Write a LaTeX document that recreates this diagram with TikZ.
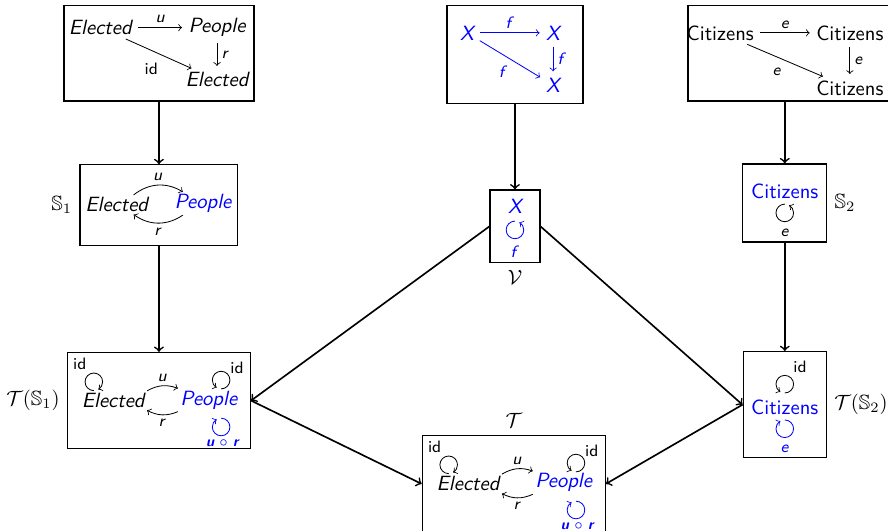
\documentclass[tikz,border=0pt]{standalone}
\usepackage{amssymb}
\begin{document}
\begin{tikzpicture}[
    font=\sffamily,
    box/.style={draw=black, semithick, inner sep=0pt},
    obj/.style={inner sep=1pt, font=\sffamily\itshape},
    objup/.style={inner sep=1pt, font=\sffamily},
    lbl/.style={font=\sffamily\footnotesize, inner sep=2pt},
    tag/.style={font=\normalsize},
    link/.style={->, thick},
    map/.style={->, shorten >=2pt, shorten <=2pt},
    loopy/.style={->},
  ]
  \useasboundingbox (0,0) rectangle (15.14,9.05);
  % frames
  \node[box, minimum width=3.24cm, minimum height=1.62cm] (A)  at (2.71,8.14) {};
  \node[box, minimum width=2.32cm, minimum height=1.67cm] (B)  at (8.78,8.12) {};
  \node[box, minimum width=3.50cm, minimum height=1.62cm] (C)  at (13.48,8.14) {};
  \node[box, minimum width=2.69cm, minimum height=1.38cm] (S1) at (2.71,5.55) {};
  \node[box, minimum width=0.85cm, minimum height=1.24cm] (V)  at (8.78,5.19) {};
  \node[box, minimum width=1.43cm, minimum height=1.33cm] (S2) at (13.38,5.59) {};
  \node[box, minimum width=3.12cm, minimum height=1.64cm] (TS1) at (2.71,2.22) {};
  \node[box, minimum width=3.12cm, minimum height=1.64cm] (T)  at (8.76,0.80) {};
  \node[box, minimum width=1.42cm, minimum height=1.81cm] (TS2) at (13.38,2.15) {};
  % frame names
  \node[tag, left]  (tS1)  at (S1.west)  {$\mathbb{S}_1$};
  \node[tag, below] (tV)   at (V.south)  {$\mathcal{V}$};
  \node[tag, right] (tS2)  at (S2.east)  {$\mathbb{S}_2$};
  \node[tag, left]  (tTS1) at (TS1.west) {$\mathcal{T}(\mathbb{S}_1)$};
  \node[tag, above] (tT)   at (T.north)  {$\mathcal{T}$};
  \node[tag, right] (tTS2) at (TS2.east) {$\mathcal{T}(\mathbb{S}_2)$};
  % top left triangle
  \node[obj] (EA1) at (1.71,8.58) {Elected};
  \node[obj] (PA)  at (3.70,8.58) {People};
  \node[obj] (EA2) at (3.70,7.69) {Elected};
  \draw[map] (EA1) -- node[lbl, above] {\textit{u}} (PA);
  \draw[map] (PA) -- node[lbl, right] {\textit{r}} (EA2);
  \draw[map] (EA1) -- node[lbl, pos=0.4, below=4pt] {id} (EA2);
  % top middle triangle
  \node[obj, text=blue] (XB1) at (7.96,8.49) {X};
  \node[obj, text=blue] (XB2) at (9.43,8.49) {X};
  \node[obj, text=blue] (XB3) at (9.43,7.60) {X};
  \draw[map, blue] (XB1) -- node[lbl, above] {\textit{f}} (XB2);
  \draw[map, blue] (XB2) -- node[lbl, right] {\textit{f}} (XB3);
  \draw[map, blue] (XB1) -- node[lbl, pos=0.4, below=3pt] {\textit{f}} (XB3);
  % top right triangle
  \node[objup] (CC1) at (12.28,8.49) {Citizens};
  \node[objup] (CC2) at (14.49,8.49) {Citizens};
  \node[objup] (CC3) at (14.49,7.55) {Citizens};
  \draw[map] (CC1) -- node[lbl, above] {\textit{e}} (CC2);
  \draw[map] (CC2) -- node[lbl, right] {\textit{e}} (CC3);
  \draw[map] (CC1) -- node[lbl, pos=0.4, below=3pt] {\textit{e}} (CC3);
  % S1
  \node[obj] (ES1) at (1.99,5.56) {Elected};
  \node[obj, text=blue] (PS1) at (3.46,5.58) {People};
  \draw[->] (ES1.30) to[bend left=35] node[lbl, above] {\textit{u}} (PS1.150);
  \draw[->] (PS1.210) to[bend left=35] node[lbl, below] {\textit{r}} (ES1.330);
  % V
  \node[obj, text=blue] (XV) at (8.78,5.54) {X};
  \coordinate (fV) at (8.78,5.28);
  \draw[loopy, blue] (fV) arc[start angle=90, delta angle=330, radius=0.15cm];
  \node[lbl, text=blue] (lfV) at (8.78,4.76) {\textit{f}};
  % S2
  \node[objup, text=blue] (CS2) at (13.38,5.78) {Citizens};
  \coordinate (fS2) at (13.38,5.57);
  \draw[loopy] (fS2) arc[start angle=90, delta angle=330, radius=0.15cm];
  \node[lbl] (leS2) at (13.38,5.08) {\textit{e}};
  % T(S1)
  \node[obj] (ET1) at (1.93,2.22) {Elected};
  \node[obj, text=blue] (PT1) at (3.56,2.23) {People};
  \draw[->] (ET1.north east) to[bend left=25] node[lbl, above] {\textit{u}} (PT1.north west);
  \draw[->] (PT1.south west) to[bend left=25] node[lbl, below] {\textit{r}} (ET1.south east);
  \coordinate (fE1) at (1.60,2.39);
  \coordinate (fP1) at (3.77,2.42);
  \coordinate (fQ1) at (3.77,1.92);
  \draw[loopy] (fE1) arc[start angle=270, delta angle=-330, radius=0.15cm];
  \draw[loopy] (fP1) arc[start angle=270, delta angle=330, radius=0.15cm];
  \draw[loopy, blue] (fQ1) arc[start angle=90, delta angle=-330, radius=0.15cm];
  \node[lbl] (liE1) at (1.36,2.85) {id};
  \node[lbl] (liP1) at (4.04,2.78) {id};
  \node[lbl, text=blue] (lQ1) at (3.79,1.50) {\scriptsize\bfseries\itshape u $\circ$ r};
  % T
  \node[obj] (ET) at (7.98,0.80) {Elected};
  \node[obj, text=blue] (PT) at (9.61,0.82) {People};
  \draw[->] (ET.north east) to[bend left=25] node[lbl, above] {\textit{u}} (PT.north west);
  \draw[->] (PT.south west) to[bend left=25] node[lbl, below] {\textit{r}} (ET.south east);
  \coordinate (fE) at (7.65,0.975);
  \coordinate (fP) at (9.82,1.005);
  \coordinate (fQ) at (9.82,0.505);
  \draw[loopy] (fE) arc[start angle=270, delta angle=-330, radius=0.15cm];
  \draw[loopy] (fP) arc[start angle=270, delta angle=330, radius=0.15cm];
  \draw[loopy, blue] (fQ) arc[start angle=90, delta angle=-330, radius=0.15cm];
  \node[lbl] (liE) at (7.41,1.435) {id};
  \node[lbl] (liP) at (10.09,1.365) {id};
  \node[lbl, text=blue] (lQ) at (9.84,0.085) {\scriptsize\bfseries\itshape u $\circ$ r};
  % T(S2)
  \node[objup, text=blue] (CT2) at (13.38,2.11) {Citizens};
  \coordinate (fC2) at (13.38,2.35);
  \coordinate (fD2) at (13.38,1.89);
  \draw[loopy] (fC2) arc[start angle=270, delta angle=330, radius=0.15cm];
  \draw[loopy, blue] (fD2) arc[start angle=90, delta angle=-330, radius=0.15cm];
  \node[lbl] (liC2) at (13.64,2.80) {id};
  \node[lbl, text=blue] (leD2) at (13.38,1.40) {\textit{e}};
  % arrows between frames
  \draw[link] (A) -- (S1);
  \draw[link] (S1) -- (TS1);
  \draw[link] (B) -- (V);
  \draw[link] (C.south -| S2) -- (S2);
  \draw[link] (S2) -- (TS2);
  \draw[link] (V.west) -- (TS1.east);
  \draw[link] (V.east) -- (TS2.west);
  \draw[link] (TS1.east) -- (T.west);
  \draw[link] (TS2.west) -- (T.east);
\end{tikzpicture}
\end{document}
